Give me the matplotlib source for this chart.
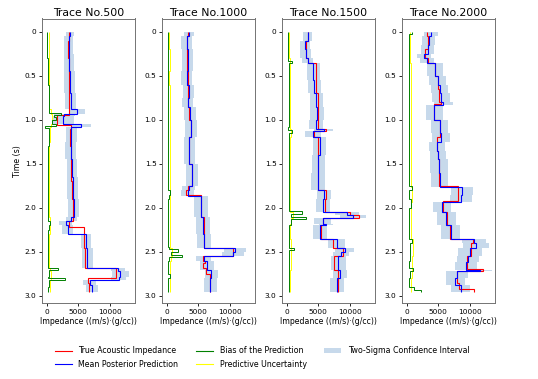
import numpy as np
import matplotlib
matplotlib.use("Agg")
import matplotlib.pyplot as plt
from matplotlib.lines import Line2D
from matplotlib.patches import Patch

# trace numbers shown in the panel titles
traces = [500, 1000, 1500, 2000]

# true acoustic impedance (layer edges in s, layer values)
true_edges = {
    500: [0, 0.1, 0.3, 0.5, 0.7, 0.9, 0.95, 1.06, 1.1, 1.3, 1.5, 1.7, 1.9, 2.15, 2.22, 2.45, 2.68, 2.80, 2.85, 2.95],
    1000: [0, 0.05, 0.45, 0.6, 0.85, 1.0, 1.2, 1.5, 1.75, 1.8, 1.85, 2.1, 2.45, 2.55, 2.6, 2.63, 2.68, 2.75, 2.95],
    1500: [0, 0.1, 0.3, 0.35, 0.7, 1.0, 1.1, 1.13, 1.2, 1.4, 1.8, 1.9, 2.05, 2.08, 2.12, 2.2, 2.35, 2.45, 2.55, 2.7, 2.95],
    2000: [0, 0.05, 0.2, 0.3, 0.35, 0.5, 0.65, 0.8, 0.82, 1.0, 1.2, 1.35, 1.45, 1.75, 1.92, 2.05, 2.2, 2.35, 2.4, 2.55, 2.69, 2.72, 2.85, 2.92, 2.95],
}
true_vals = {
    500: [3500, 3450, 3550, 3600, 3500, 3550, 1700, 3800, 3700, 3800, 3900, 4000, 4100, 3500, 5900, 6000, 11000, 6500, 6700],
    1000: [3400, 3200, 3300, 3400, 3600, 3850, 3600, 3950, 3400, 3100, 5500, 5900, 10500, 5800, 6100, 5700, 6300, 6900],
    1500: [3400, 3100, 3300, 4700, 5000, 4900, 6300, 4400, 5000, 5000, 6300, 6000, 10000, 11500, 5800, 5400, 7300, 9000, 7500, 8200],
    2000: [3200, 3400, 2900, 3300, 4500, 5000, 5100, 5500, 4300, 5300, 4800, 5000, 5100, 8200, 5700, 6400, 6900, 10500, 10200, 9600, 12100, 8000, 8300, 10700],
}

# mean posterior prediction and its standard deviation (same layers)
mean_edges = {
    500: [0, 0.05, 0.25, 0.45, 0.7, 0.88, 0.93, 0.96, 1.05, 1.08, 1.25, 1.45, 1.65, 1.9, 2.1, 2.15, 2.2, 2.3, 2.45, 2.68, 2.72, 2.78, 2.82, 2.87, 2.95],
    1000: [0, 0.05, 0.2, 0.45, 0.6, 0.75, 0.85, 1.0, 1.2, 1.5, 1.75, 1.8, 1.86, 2.1, 2.3, 2.46, 2.5, 2.55, 2.6, 2.7, 2.8, 2.95],
    1500: [0, 0.1, 0.2, 0.3, 0.35, 0.55, 0.7, 0.85, 1.0, 1.1, 1.13, 1.2, 1.4, 1.6, 1.8, 1.9, 2.05, 2.08, 2.12, 2.18, 2.2, 2.35, 2.45, 2.5, 2.55, 2.7, 2.8, 2.95],
    2000: [0, 0.05, 0.15, 0.25, 0.3, 0.35, 0.5, 0.6, 0.7, 0.8, 0.83, 1.0, 1.15, 1.25, 1.35, 1.45, 1.6, 1.76, 1.85, 1.93, 2.05, 2.2, 2.35, 2.4, 2.45, 2.55, 2.62, 2.7, 2.72, 2.8, 2.87, 2.95],
}
mean_vals = {
    500: [3700, 3500, 3600, 3650, 3800, 4800, 2800, 2600, 5500, 3900, 3800, 4000, 4100, 4300, 3900, 3000, 3300, 6200, 6400, 11300, 11700, 11400, 6800, 7200],
    1000: [3600, 3200, 3300, 3200, 3500, 3300, 3700, 3850, 3600, 3950, 3500, 3300, 5400, 5800, 5900, 10800, 10500, 5900, 6400, 7100, 6900],
    1500: [3300, 2900, 3000, 3300, 4200, 4400, 4700, 4800, 4600, 5900, 4200, 5200, 5000, 4950, 5900, 5800, 9500, 10500, 5700, 6200, 5300, 7900, 9200, 8600, 8200, 8400, 8000],
    2000: [3800, 3500, 3300, 2800, 3200, 4500, 4900, 5200, 5400, 5800, 4400, 5200, 5400, 4800, 5000, 5100, 5200, 8800, 8600, 5600, 6300, 7000, 10600, 11000, 10000, 9700, 9400, 11600, 8000, 7700, 8600],
}
sigma_vals = {
    500: [300, 350, 400, 420, 430, 650, 850, 850, 750, 450, 430, 430, 430, 430, 450, 500, 450, 420, 430, 550, 650, 600, 500, 450],
    1000: [400, 430, 450, 430, 450, 450, 450, 470, 470, 480, 500, 500, 550, 550, 530, 850, 850, 600, 550, 500, 500],
    1500: [350, 400, 430, 450, 500, 500, 530, 550, 550, 750, 650, 550, 530, 530, 550, 550, 950, 1050, 650, 550, 550, 650, 750, 650, 600, 550, 550],
    2000: [550, 500, 500, 550, 550, 650, 650, 650, 700, 750, 650, 700, 700, 650, 650, 700, 700, 850, 850, 700, 750, 750, 950, 1050, 950, 850, 850, 950, 850, 750, 750],
}

# bias of the prediction
bias_edges = {
    500: [0, 0.3, 0.6, 0.85, 0.92, 0.94, 0.97, 1.0, 1.05, 1.07, 1.09, 1.3, 1.6, 1.9, 2.15, 2.2, 2.25, 2.5, 2.68, 2.71, 2.78, 2.8, 2.82, 2.9, 2.95],
    1000: [0, 0.4, 0.8, 1.2, 1.6, 1.8, 1.85, 1.9, 2.2, 2.44, 2.47, 2.5, 2.54, 2.56, 2.6, 2.75, 2.8, 2.95],
    1500: [0, 0.3, 0.33, 0.36, 0.7, 1.08, 1.12, 1.15, 1.5, 1.9, 2.04, 2.07, 2.1, 2.13, 2.2, 2.3, 2.45, 2.48, 2.6, 2.95],
    2000: [0, 0.03, 0.3, 0.6, 0.9, 1.2, 1.5, 1.75, 1.8, 1.9, 2.0, 2.35, 2.4, 2.6, 2.68, 2.72, 2.8, 2.9, 2.93, 2.95],
}
bias_vals = {
    500: [80, 200, 300, 400, 2200, 1100, 1400, 900, 1500, -200, 300, 200, 150, 200, 500, 300, 250, 200, 1800, 300, 200, 2900, 300, 200],
    1000: [150, 200, 180, 220, 250, 500, 300, 200, 200, 300, 1800, 600, 2500, 400, 250, 500, 200],
    1500: [150, 250, 800, 300, 350, 250, 900, 300, 350, 300, 2400, 700, 3000, 600, 400, 300, 1200, 400, 300],
    2000: [800, 400, 350, 400, 300, 350, 400, 800, 400, 600, 400, 900, 500, 400, 1000, 500, 400, 1200, 2300],
}

ytick_vals = [0, 0.5, 1.0, 1.5, 2.0, 2.5, 3.0]
ytick_labels = ["0", "0.5", "1.0", "1.5", "2.0", "2.5", "3.0"]
xtick_vals = [0, 5000, 10000]

fig = plt.figure(figsize=(5.38, 3.79), dpi=100)
left, width, step = 42 / 538, 93 / 538, 120 / 538
bottom, top = 1 - 303 / 379, 1 - 18.5 / 379

band_color = (0.78, 0.85, 0.92)

for i, tr in enumerate(traces):
    ax = fig.add_axes([left + i * step, bottom, width, top - bottom])
    m = np.array(mean_vals[tr])
    s = np.array(sigma_vals[tr])
    # two-sigma band around the mean, stepped like the mean
    lo = np.append(m - 2 * s, m[-1] - 2 * s[-1])
    hi = np.append(m + 2 * s, m[-1] + 2 * s[-1])
    ax.fill_betweenx(mean_edges[tr], lo, hi, step="post",
                     color=band_color, lw=0)
    ax.stairs(true_vals[tr], true_edges[tr], baseline=None,
              orientation="horizontal", color="red", lw=0.8)
    ax.stairs(m, mean_edges[tr], baseline=None,
              orientation="horizontal", color="blue", lw=0.8)
    ax.stairs(s, mean_edges[tr], baseline=None,
              orientation="horizontal", color="yellow", lw=0.7)
    ax.stairs(bias_vals[tr], bias_edges[tr], baseline=None,
              orientation="horizontal", color="green", lw=0.7)

    ax.set_xlim(-750, 14000)
    ax.set_ylim(3.08, -0.15)
    ax.set_xticks(xtick_vals)
    ax.set_yticks(ytick_vals)
    ax.set_yticklabels(ytick_labels)
    ax.tick_params(labelsize=5.3, length=2.5, width=0.6, pad=1.5)
    for sp in ax.spines.values():
        sp.set_color("0.45")
        sp.set_linewidth(0.7)
    ax.set_title("Trace No.%d" % tr, fontsize=7.8, pad=2)
    ax.set_xlabel("Impedance ((m/s)·(g/cc))", fontsize=5.6, labelpad=1.5)
    if i == 0:
        ax.set_ylabel("Time (s)", fontsize=5.6, labelpad=2)

handles = [
    Line2D([], [], color="red", lw=0.8),
    Line2D([], [], color="blue", lw=0.8),
    Line2D([], [], color="green", lw=0.8),
    Line2D([], [], color="yellow", lw=0.8),
    Patch(facecolor=band_color, edgecolor="none"),
]
labels = ["True Acoustic Impedance", "Mean Posterior Prediction",
          "Bias of the Prediction", "Predictive Uncertainty",
          "Two-Sigma Confidence Interval"]
fig.legend(handles, labels, loc="center", bbox_to_anchor=(0.487, 0.056),
           ncol=3, frameon=False, fontsize=5.7, handlelength=2.2,
           columnspacing=2.2, labelspacing=0.6)

fig.savefig("out.png", dpi=100)
